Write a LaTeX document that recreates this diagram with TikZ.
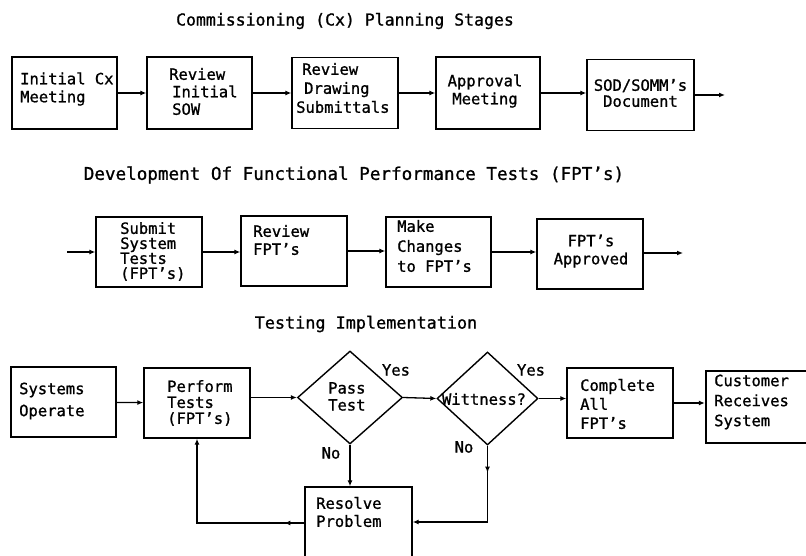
\documentclass[tikz,border=0pt]{standalone}
\usepackage{fontspec}
\newfontfamily\plotfont[FakeBold=1]{DejaVu Sans Mono}
\usetikzlibrary{arrows.meta,shapes.geometric,decorations.markings}
\begin{document}
\begin{tikzpicture}[x=1pt,y=-1pt,
  box/.style={draw,line width=1.4pt,inner sep=0pt},
  txt/.style={inner sep=0pt,align=left,anchor=west,font=\plotfont\fontsize{15.5}{#1}\selectfont},
  txt/.default=18,
  ctxt/.style={txt=#1,align=center,anchor=center},
  ctxt/.default=18,
  ttl/.style={inner sep=0pt,font=\plotfont\fontsize{#1}{20}\selectfont},
  dia/.style={draw,diamond,line width=1.4pt,inner sep=0pt},
  tip/.style={-{Latex[length=6pt,width=5pt]}},
  conn/.style={line width=1.3pt,tip},
  midarrow/.style={postaction={decorate},decoration={markings,mark=at position #1 with {\arrow{Latex[length=6pt,width=5pt]}}}},
  lbl/.style={inner sep=0pt,font=\plotfont\fontsize{15.5}{18}\selectfont}]
\useasboundingbox (0,0) rectangle (806,556);
\clip (0,0) rectangle (806,556);

% titles
\node[ttl=16.5] (t1) at (345,21) {Commissioning (Cx) Planning Stages};
\node[ttl=17.6] (t2) at (354,175) {Development Of Functional Performance Tests (FPT’s)};
\node[ttl=16.8] (t3) at (366,324) {Testing Implementation};

% row 1
\node[box,minimum width=105pt,minimum height=72pt] (a1) at (64.5,93) {};
\node[box,minimum width=105pt,minimum height=72pt] (a2) at (199.5,93) {};
\node[box,minimum width=106pt,minimum height=71pt] (a3) at (345,93) {};
\node[box,minimum width=104pt,minimum height=72pt] (a4) at (488,93) {};
\node[box,minimum width=107pt,minimum height=71pt] (a5) at (640.5,95) {};
\coordinate (aend) at (725,95);
\node[txt] (a1t) at (20,89) {Initial Cx\\Meeting};
\node[txt=17.5] (a2t) at (169,91.5) {Review\\\hspace*{3pt}Initial\\\hspace*{3pt}SOW};
\node[txt=19] (a3t) at (296,88) {\hspace*{6pt}Review\\\hspace*{8pt}Drawing\\Submittals};
\node[ctxt] (a4t) at (485,91) {Approval\\Meeting};
\node[ctxt=16] (a5t) at (640.5,93) {SOD/SOMM’s\\Document};
\draw[conn] (a1) -- (a2);
\draw[conn] (a2) -- (a3);
\draw[conn] (a3) -- (a4);
\draw[conn] (a4) -- (a4 -| a5.west);
\draw[conn] (a5.east) -- (aend);

% row 2
\coordinate (bstart) at (67,252);
\node[box,minimum width=106pt,minimum height=70pt] (b1) at (149,252) {};
\node[box,minimum width=106pt,minimum height=70pt] (b2) at (294,251) {};
\node[box,minimum width=105pt,minimum height=70pt] (b3) at (438.5,252) {};
\node[box,minimum width=106pt,minimum height=70pt] (b4) at (590,254) {};
\coordinate (bend) at (683,253);
\node[txt=15] (b1t) at (120,251.5) {Submit\\System\\Tests\\(FPT’s)};
\node[txt] (b2t) at (253,240) {Review\\FPT’s};
\node[txt=20] (b3t) at (397,246) {Make\\Changes\\to FPT’s};
\node[ctxt] (b4t) at (591,251) {FPT’s\\Approved};
\draw[conn] (bstart) -- (b1);
\draw[conn] (b1.east) -- (b1.east -| b2.west);
\draw[conn] (b2.east) -- (b2.east -| b3.west);
\draw[conn] (b3.east) -- (b3.east -| b4.west);
\draw[conn] (b4.east |- bend) -- (bend);

% row 3
\node[box,minimum width=105pt,minimum height=70pt] (c1) at (63.5,402) {};
\node[box,minimum width=106pt,minimum height=70pt] (c2) at (197,403) {};
\node[dia,minimum width=105pt,minimum height=93pt] (d1) at (350,397.5) {};
\node[dia,minimum width=101pt,minimum height=93pt] (d2) at (487.5,398.5) {};
\node[box,minimum width=106pt,minimum height=70pt] (c3) at (620,403) {};
\node[draw,line width=2.4pt,inner sep=0pt,minimum width=106pt,minimum height=72pt] (c4) at (759,407) {};
\node[box,minimum width=107pt,minimum height=76pt] (c5) at (358.5,525) {};

\node[txt=22] (c1t) at (19,401) {Systems\\Operate};
\node[txt=16] (c2t) at (167,403) {Perform\\Tests\\(FPT’s)};
\node[txt=17] (d1t) at (328,396.5) {Pass\\Test};
\node[ctxt] (d2t) at (484,399) {Wittness?};
\node[txt=19] (c3t) at (580,404) {Complete\\All\\FPT’s};
\node[txt=20] (c4t) at (714,402) {Customer\\Receives\\System};
\node[txt=18] (c5t) at (316,512) {Resolve\\Problem};

\node[lbl] (y1) at (396,370) {Yes};
\node[lbl] (n1) at (331,453) {No};
\node[lbl] (y2) at (531,370) {Yes};
\node[lbl] (n2) at (464,447) {No};

\coordinate (wturn) at (487.5,522);
\coordinate (rturn) at (197,523);
\draw[conn] (c1) -- (c2);
\draw[conn] (c2.east |- d1.west) -- (d1.west);
\draw[conn] (d1.east) -- (d2.west);
\draw[conn] (d2.east) -- (d2.east -| c3.west);
\draw[conn] (c3.east) -- (c3.east -| c4.west);
\draw[conn] (d1.south) -- (d1.south |- c5.north);
\draw[conn,midarrow=27pt] (d2.south) -- (wturn) -- (wturn -| c5.east);
\draw[conn,midarrow=20pt] (rturn -| c5.west) -- (rturn) -- (c2.south);
\end{tikzpicture}
\end{document}
